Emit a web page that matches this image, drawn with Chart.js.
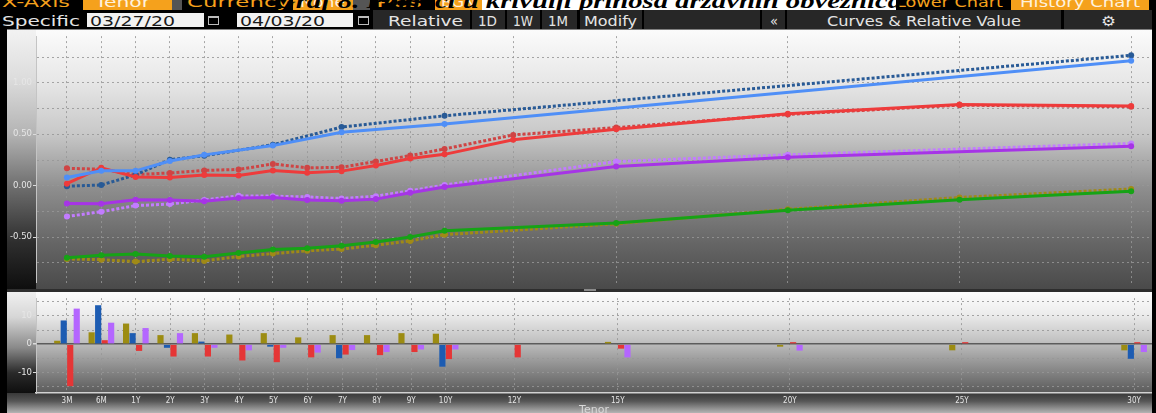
<!DOCTYPE html>
<html><head><meta charset="utf-8">
<script src="https://cdn.jsdelivr.net/npm/chart.js@4.4.1/dist/chart.umd.min.js"></script>
<style>
html,body{margin:0;padding:0;background:#000;width:1156px;height:413px;overflow:hidden;}
#stage{position:relative;width:1156px;height:413px;overflow:hidden;background:#000;font-family:"DejaVu Sans",sans-serif;}
.abs{position:absolute;}
.t{position:absolute;white-space:nowrap;font-size:14px;line-height:14px;transform-origin:0 0;}
.o{color:#f5a11c;}
.ob{color:#fff1dc;}
.lt{color:#e4e4e4;}
.dk{color:#1a1a1a;}
.btn{position:absolute;top:10px;height:19px;background:#272727;}
.cal{position:absolute;top:16px;width:9px;height:6px;border:1px solid #bdbdbd;border-top-width:2px;}
canvas{position:absolute;display:block;}
</style></head>
<body>
<div id="stage">
  <!-- row 0 (clipped top strip) -->
  <div class="abs" style="left:0;top:0;width:1156px;height:9.5px;overflow:hidden;background:#000;">
    <span class="t o fit" data-x1="2" data-x2="70" style="top:-5.4px">X-Axis</span>
    <div class="abs" style="left:83px;top:0;width:89px;height:10px;background:#f5a11c"></div>
    <span class="t ob fit" data-x1="95" data-x2="150" style="top:-5.4px">Tenor</span>
    <div class="abs" style="left:172px;top:0;width:10px;height:10px;background:#555"></div>
    <span class="t o fit" data-x1="187" data-x2="290" style="top:-5.4px">Currency</span>
    <div class="abs" style="left:293px;top:0;width:60px;height:10px;background:#f5a11c"></div>
    <span class="t ob fit" data-x1="300" data-x2="345" style="top:-5.4px">None</span>
    <div class="abs" style="left:353px;top:0;width:17px;height:10px;background:#555"></div>
    <span class="t o fit" data-x1="376" data-x2="422" style="top:-5.4px">Pcs</span>
    <div class="abs" style="left:435px;top:0;width:47px;height:10px;background:#f5a11c"></div>
    <span class="t ob fit" data-x1="441" data-x2="476" style="top:-5.4px">BGN</span>
    <div class="abs" style="left:482px;top:0;width:414px;height:10px;background:#fff"></div>
    <span class="t o fit" data-x1="896" data-x2="1003" style="top:-5.4px">Lower Chart</span>
    <div class="abs" style="left:1011px;top:0;width:138px;height:10px;background:#f5a11c"></div>
    <span class="t ob fit" data-x1="1020" data-x2="1140" style="top:-5.4px">History Chart</span>
    <span class="t fit" data-x1="275" data-x2="902" style="top:-9.3px;font-family:'Liberation Serif',serif;font-weight:bold;font-style:italic;font-size:20px;line-height:20px;color:#000">Graf 8. Pomaci u krivulji prinosa državnih obveznica</span>
  </div>
  <!-- row 1 toolbar -->
  <div class="abs" style="left:0;top:9.5px;width:1156px;height:19.5px;background:#000"></div>
  <span class="t lt fit" data-x1="2" data-x2="80" style="top:13.6px">Specific</span>
  <div class="abs" style="left:87px;top:13px;width:117px;height:14px;background:#f2f2f2"></div>
  <span class="t dk fit" data-x1="90" data-x2="175" style="top:13.6px">03/27/20</span>
  <div class="cal" style="left:208px"></div>
  <div class="abs" style="left:237px;top:13px;width:116px;height:14px;background:#f2f2f2"></div>
  <span class="t dk fit" data-x1="240" data-x2="325" style="top:13.6px">04/03/20</span>
  <div class="cal" style="left:358px"></div>
  <div class="btn" style="left:373px;width:97px"></div>
  <div class="btn" style="left:472px;width:33px"></div>
  <div class="btn" style="left:507px;width:33px"></div>
  <div class="btn" style="left:542px;width:35px"></div>
  <div class="btn" style="left:580px;width:62px"></div>
  <div class="btn" style="left:644px;width:116px"></div>
  <div class="btn" style="left:762px;width:23px"></div>
  <div class="btn" style="left:787px;width:274px"></div>
  <div class="btn" style="left:1064px;width:88px"></div>
  <span class="t lt fit" data-x1="388" data-x2="463" style="top:13.6px">Relative</span>
  <span class="t lt fit" data-x1="478" data-x2="497" style="top:13.6px">1D</span>
  <span class="t lt fit" data-x1="513" data-x2="533" style="top:13.6px">1W</span>
  <span class="t lt fit" data-x1="548" data-x2="568" style="top:13.6px">1M</span>
  <span class="t lt fit" data-x1="584" data-x2="637" style="top:13.6px">Modify</span>
  <span class="t lt fit" data-x1="770" data-x2="778" style="top:13.6px">«</span>
  <span class="t lt fit" data-x1="827" data-x2="1021" style="top:13.6px">Curves &amp; Relative Value</span>
  <span class="t lt fit" data-x1="1101" data-x2="1116" style="top:13.6px">⚙</span>

  <!-- panel backgrounds -->
  <div class="abs" style="left:7px;top:29px;width:1145px;height:1px;background:#808080"></div>
  <div class="abs" style="left:7px;top:30px;width:1145px;height:259px;background:linear-gradient(to bottom,#fbfbfb 0%,#e8e8e8 19%,#c8c8c8 40%,#8e8e8e 61%,#666 82%,#4a4a4a 100%)"></div>
  <div class="abs" style="left:7px;top:30px;width:29px;height:259px;background:linear-gradient(to bottom,#f2f2f2 0%,#dcdcdc 19%,#b4b4b4 40%,#707070 60%,#2e2e2e 82%,#0e0e0e 100%)"></div>
  <div class="abs" style="left:7px;top:289px;width:1145px;height:3px;background:#2e2e2e"></div>
  <div class="abs" style="left:584px;top:289px;width:12px;height:2px;background:#8a8a8a"></div>
  <div class="abs" style="left:7px;top:292px;width:1145px;height:101px;background:linear-gradient(to bottom,#fdfdfd 0%,#ececec 22%,#c2c2c2 48%,#8c8c8c 75%,#5a5a5a 100%)"></div>
  <div class="abs" style="left:7px;top:292px;width:29px;height:101px;background:linear-gradient(to bottom,#f0f0f0 0%,#d6d6d6 25%,#8a8a8a 55%,#2a2a2a 80%,#0e0e0e 100%)"></div>
  <div class="abs" style="left:7px;top:393px;width:1145px;height:20px;background:linear-gradient(to bottom,#383838 0%,#555 40%,#b4b4b4 100%)"></div>

  <canvas id="upper" width="1145" height="259" style="left:7px;top:30px"></canvas>
  <canvas id="lower" width="1145" height="128" style="left:7px;top:292px"></canvas>
</div>
<script>
// ---------------- data ----------------
const tenorLabels = ['3M','6M','1Y','2Y','3Y','4Y','5Y','6Y','7Y','8Y','9Y','10Y','12Y','15Y','20Y','25Y','30Y'];
// position of each tenor on the chart's tenor axis (3M and 6M sit one step apart before 1Y)
const tenorAxis   = [-1, 0, 1, 2, 3, 4, 5, 6, 7, 8, 9, 10, 12, 15, 20, 25, 30];

const dateNew = '04/03/20';
const dateOld = '03/27/20';

// yields (%) on 04/03/20 (solid) and 03/27/20 (dotted)
const blueNew   = [0.080, 0.145, 0.145, 0.240, 0.300, null, 0.390, null, 0.520, null, null, 0.600, null, null, null, null, 1.215];
const blueOld   = [-0.004, 0.007, 0.106, 0.253, 0.291, null, 0.399, null, 0.570, null, null, 0.680, null, null, null, null, 1.267];
const redNew    = [0.020, 0.175, 0.085, 0.080, 0.105, 0.100, 0.148, 0.127, 0.142, 0.197, 0.265, 0.305, 0.447, 0.549, 0.700, 0.790, 0.775];
const redOld    = [0.169, 0.161, 0.109, 0.124, 0.149, 0.158, 0.212, 0.174, 0.179, 0.236, 0.293, 0.358, 0.494, 0.565, 0.693, 0.783, 0.768];
const purpleNew = [-0.173, -0.176, -0.136, -0.139, -0.151, -0.120, -0.114, -0.139, -0.145, -0.130, -0.068, -0.012, null, 0.188, 0.278, null, 0.383];
const purpleOld = [-0.299, -0.252, -0.193, -0.178, -0.138, -0.098, -0.101, -0.109, -0.124, -0.102, -0.049, 0.007, null, 0.235, 0.301, null, 0.411];
const greenNew  = [-0.700, -0.676, -0.664, -0.682, -0.691, -0.654, -0.620, -0.608, -0.583, -0.546, -0.497, -0.438, null, -0.361, -0.238, -0.136, -0.053];
const greenOld  = [-0.712, -0.718, -0.737, -0.714, -0.730, -0.688, -0.659, -0.632, -0.615, -0.578, -0.536, -0.475, null, -0.369, -0.229, -0.114, -0.031];

// changes (bp)
const greenChg  = [1.2, 4.2, 7.3, 3.2, 3.9, 3.4, 3.9, 2.4, 3.2, 3.2, 3.9, 3.7, null, 0.8, -0.9, -2.2, -2.2];
const blueChg   = [8.4, 13.8, 3.9, -1.3, 0.9, null, -0.9, null, -5.0, null, null, -8.0, null, null, null, null, -5.2];
const redChg    = [-14.9, 1.4, -2.4, -4.4, -4.4, -5.8, -6.4, -4.7, -3.7, -3.9, -2.8, -5.3, -4.7, -1.6, 0.7, 0.7, 0.7];
const purpleChg = [12.6, 7.6, 5.7, 3.9, -1.3, -2.2, -1.3, -3.0, -2.1, -2.8, -1.9, -1.9, null, -4.7, -2.3, null, -2.8];

const upperGridTicks  = [-0.75, -0.5, -0.25, 0, 0.25, 0.5, 0.75, 1.0, 1.25];
const upperLabelTicks = [-0.5, 0, 0.5, 1.0];
const lowerGridTicks  = [-15, -10, -5, 0, 5, 10, 15];
const lowerLabelTicks = [-10, 0, 10];

// ---------------- text fitting ----------------
function fitAll(){
  document.querySelectorAll('.fit').forEach(el=>{
    const x1=+el.dataset.x1, x2=+el.dataset.x2;
    el.style.left=x1+'px';
    el.style.transform='none';
    const w=el.getBoundingClientRect().width;
    if(w>0) el.style.transform='scaleX('+((x2-x1)/w)+')';
  });
}
fitAll();
if(document.fonts && document.fonts.ready) document.fonts.ready.then(fitAll);

// ---------------- charts ----------------
Chart.defaults.font.family = "'DejaVu Sans', sans-serif";
Chart.defaults.animation = false;

const pts = arr => tenorAxis.map((x,i)=>({x:x, y:arr[i]}));
const gridCol = 'rgba(150,150,150,0.85)';
const labelCol = '#e6e6e6';
const xMin = -1.9, xMax = 30.52;
const setTenorTicks = s => { s.ticks = tenorAxis.map(v=>({value:v})); };

function lineDs(label, arr, color, dotted){
  return {
    label: label, data: pts(arr), borderColor: color, backgroundColor: color,
    borderWidth: 3, borderDash: dotted ? [3,2] : [],
    pointRadius: 3, pointHoverRadius: 3, pointBorderWidth: 0, pointBackgroundColor: color,
    spanGaps: true, tension: 0, fill: false
  };
}

new Chart(document.getElementById('upper'), {
  type: 'line',
  data: {
    datasets: [
      lineDs('US ' + dateNew, blueNew, '#4f8ff7', false),
      lineDs('Red ' + dateNew, redNew, '#ee3b3b', false),
      lineDs('Purple ' + dateNew, purpleNew, '#a634e6', false),
      lineDs('Green ' + dateNew, greenNew, '#16a316', false),
      lineDs('US ' + dateOld, blueOld, '#285a96', true),
      lineDs('Red ' + dateOld, redOld, '#cf4444', true),
      lineDs('Purple ' + dateOld, purpleOld, '#c27cff', true),
      lineDs('Green ' + dateOld, greenOld, '#a08a16', true)
    ]
  },
  options: {
    responsive: false,
    layout: {padding: 0},
    plugins: {legend: {display: false}, tooltip: {enabled: false}},
    scales: {
      x: {
        type: 'linear', min: xMin, max: xMax,
        afterBuildTicks: setTenorTicks,
        afterFit: s => { s.height = 0; },
        ticks: {display: false},
        grid: {color: gridCol, drawTicks: false, lineWidth: 1},
        border: {display: false, dash: [2,3]}
      },
      y: {
        min: -0.944, max: 1.454,
        afterBuildTicks: s => { s.ticks = upperGridTicks.map(v=>({value:v})); },
        afterFit: s => { s.width = 29; },
        ticks: {
          color: labelCol, font: {size: 8.5}, padding: 1,
          callback: v => upperLabelTicks.includes(v) ? v.toFixed(2) : ''
        },
        grid: {
          color: gridCol, lineWidth: 1, tickLength: 3,
          tickColor: c => (c.tick && upperLabelTicks.includes(c.tick.value)) ? '#dcdcdc' : 'rgba(0,0,0,0)'
        },
        border: {display: true, color: '#c4c4c4', width: 1, dash: [2,3]}
      }
    }
  }
});

function barDs(label, arr, color){
  return {label: label, data: pts(arr), backgroundColor: color, borderWidth: 0,
          categoryPercentage: 0.755, barPercentage: 0.95};
}

new Chart(document.getElementById('lower'), {
  type: 'bar',
  data: {
    datasets: [
      barDs('Green chg', greenChg, '#9c8c12'),
      barDs('US chg', blueChg, '#1d5cb2'),
      barDs('Red chg', redChg, '#e53636'),
      barDs('Purple chg', purpleChg, '#b466ff')
    ]
  },
  options: {
    responsive: false,
    layout: {padding: 0},
    plugins: {legend: {display: false}, tooltip: {enabled: false}},
    scales: {
      x: {
        type: 'linear', min: xMin, max: xMax, offset: false,
        afterBuildTicks: setTenorTicks,
        afterFit: s => { s.height = 27; },
        ticks: {
          color: labelCol, font: {family: "'DejaVu Sans Condensed','DejaVu Sans',sans-serif", size: 8},
          padding: 3, autoSkip: false, maxRotation: 0,
          callback: v => tenorLabels[tenorAxis.indexOf(v)]
        },
        grid: {color: gridCol, drawTicks: false, lineWidth: 1, offset: false},
        border: {display: true, color: '#d2d2d2', width: 1.5, dash: [2,3]},
        title: {display: true, text: 'Tenor', color: '#d8d8d8', font: {size: 11}, padding: {top: 0, bottom: 3}}
      },
      y: {
        min: -17.33, max: 16.33,
        afterBuildTicks: s => { s.ticks = lowerGridTicks.map(v=>({value:v})); },
        afterFit: s => { s.width = 29; },
        ticks: {
          color: labelCol, font: {size: 8.5}, padding: 1,
          callback: v => lowerLabelTicks.includes(v) ? String(v) : ''
        },
        grid: {
          color: c => (c.tick && c.tick.value === 0) ? '#5c5c5c' : gridCol,
          lineWidth: c => (c.tick && c.tick.value === 0) ? 1.5 : 1,
          tickLength: 3,
          tickColor: c => (c.tick && lowerLabelTicks.includes(c.tick.value)) ? '#dcdcdc' : 'rgba(0,0,0,0)'
        },
        border: {display: true, color: '#c4c4c4', width: 1,
                 dash: c => (c.tick && c.tick.value === 0) ? [] : [2,3]}
      }
    }
  }
});
</script>
</body></html>
